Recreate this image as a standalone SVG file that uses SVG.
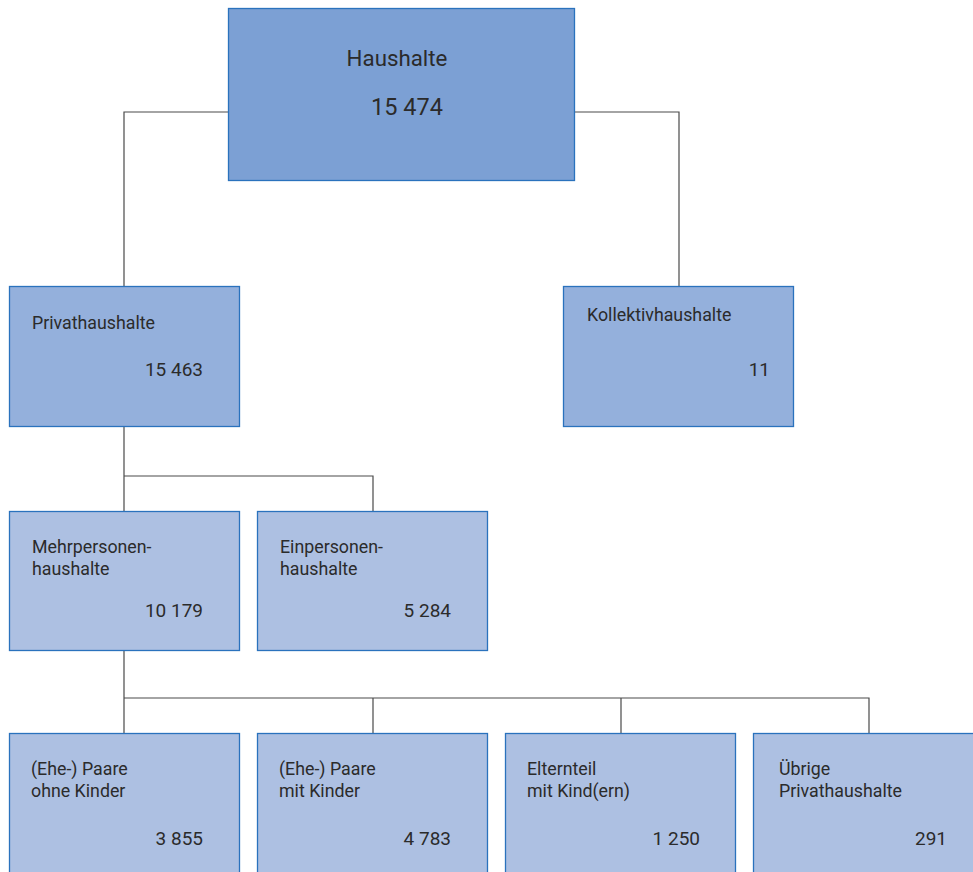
<svg xmlns="http://www.w3.org/2000/svg" width="973" height="872" viewBox="0 0 973 872">
<style>
.b{stroke:#2a72bd;stroke-width:1.3}
.l0{fill:#7ca0d4}.l1{fill:#94b0dc}.l2{fill:#adc0e2}
text{font-family:Roboto,"Liberation Sans",sans-serif;fill:#2b2b2b;font-size:17.8px}
.n{text-anchor:end;font-size:19px}
.c{fill:none;stroke:#4a4a4a;stroke-width:1.2}
</style>
<rect width="973" height="872" fill="#fff"/>
<g id="connectors" class="c">
<path d="M228 112H124V286M575 112H679V286"/>
<path d="M124 427V511M124 476H373V511"/>
<path d="M124 651V733M124 698H869V733M373 698V733M621 698V733"/>
</g>
<g id="haushalte"><rect class="b l0" x="228.5" y="8.5" width="346" height="172"/>
<text x="397" y="66" text-anchor="middle" style="font-size:22.3px">Haushalte</text>
<text x="407" y="115" text-anchor="middle" style="font-size:23.5px">15 474</text></g>
<g id="privat"><rect class="b l1" x="9.5" y="286.5" width="230" height="140"/>
<text x="32" y="329">Privathaushalte</text><text class="n" x="203" y="376">15 463</text></g>
<g id="kollektiv"><rect class="b l1" x="563.5" y="286.5" width="230" height="140"/>
<text x="587" y="321">Kollektivhaushalte</text><text class="n" x="770" y="376">11</text></g>
<g id="mehr"><rect class="b l2" x="9.5" y="511.5" width="230" height="139"/>
<text x="32" y="553">Mehrpersonen-</text><text x="32" y="575">haushalte</text><text class="n" x="203" y="617">10 179</text></g>
<g id="ein"><rect class="b l2" x="257.5" y="511.5" width="230" height="139"/>
<text x="280" y="553">Einpersonen-</text><text x="280" y="575">haushalte</text><text class="n" x="451" y="617">5 284</text></g>
<g id="paare-ohne"><rect class="b l2" x="9.5" y="733.5" width="230" height="150"/>
<text x="31" y="775">(Ehe-) Paare</text><text x="31" y="797">ohne Kinder</text><text class="n" x="203" y="845">3 855</text></g>
<g id="paare-mit"><rect class="b l2" x="257.5" y="733.5" width="230" height="150"/>
<text x="279" y="775">(Ehe-) Paare</text><text x="279" y="797">mit Kinder</text><text class="n" x="451" y="845">4 783</text></g>
<g id="elternteil"><rect class="b l2" x="505.5" y="733.5" width="230" height="150"/>
<text x="527" y="775">Elternteil</text><text x="527" y="797">mit Kind(ern)</text><text class="n" x="700" y="845">1 250</text></g>
<g id="uebrige"><rect class="b l2" x="753.5" y="733.5" width="230" height="150"/>
<text x="779" y="775">Übrige</text><text x="779" y="797">Privathaushalte</text><text class="n" x="947" y="845">291</text></g>
</svg>
